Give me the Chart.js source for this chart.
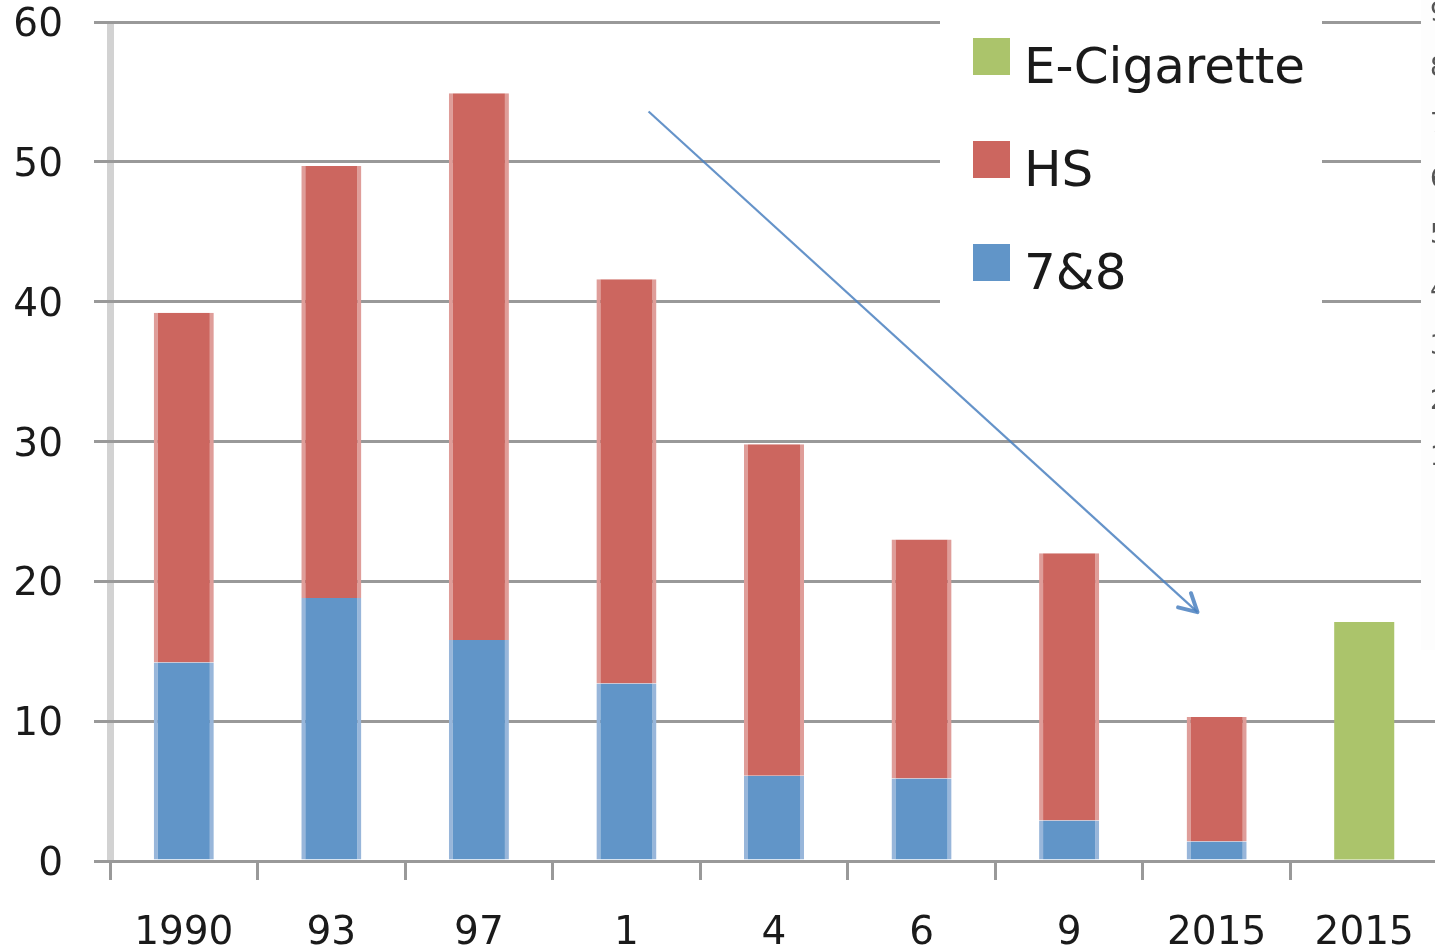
<!DOCTYPE html>
<html lang="en">
<head>
    <meta charset="UTF-8">
    <title>Smoking rates, grades 7&amp;8 and HS</title>
    <script src="https://cdn.jsdelivr.net/npm/chart.js"></script>
    <style>
        html, body {
            margin: 0;
            padding: 0;
            overflow: hidden;
            background: #fff;
        }
        #wrap {
            width: 1450px;
            height: 948px;
        }
    </style>
</head>
<body>
    <div id="wrap">
        <canvas id="smokeChart" width="1450" height="948"></canvas>
    </div>

    <script>
        // survey years (last two both 2015: cigarettes vs e-cigarettes)
        const years = ['1990', '93', '97', '1', '4', '6', '9', '2015', '2015'];
        const grade78 = [14.2, 18.8, 15.8, 12.7, 6.1, 5.9, 2.9, 1.4, null];
        const highSchool = [25.0, 30.9, 39.1, 28.9, 23.7, 17.1, 19.1, 8.9, null];
        const eCigarette = [null, null, null, null, null, null, null, null, 17.1];
        const yTicks = [0, 10, 20, 30, 40, 50, 60];

        // trend arrow, in [category index, value]
        const trendFrom = [3.15, 53.6];
        const trendTo = [6.87, 17.8];

        // labels of the clipped axis on the far right
        const sideLabels = ['9', '8', '7', '6', '5', '4', '3', '2', '1'];

        const FONT = 'DejaVu Sans';
        const INK = '#1a1a1a';
        const GRID = '#999999';

        // light grey vertical axis, drawn under the grid lines
        const axisUnderlay = {
            id: 'axisUnderlay',
            beforeDraw(chart) {
                const { ctx, chartArea } = chart;
                ctx.save();
                ctx.fillStyle = '#d2d2d2';
                ctx.fillRect(chartArea.left - 3, chartArea.top, 7, chartArea.bottom - chartArea.top);
                ctx.restore();
            }
        };

        // legend box, arrow and right edge strip
        const overlay = {
            id: 'overlay',
            afterDraw(chart) {
                const { ctx } = chart;
                const xs = chart.scales.x;
                const ys = chart.scales.y;
                ctx.save();

                // right strip hiding upper grid lines
                ctx.fillStyle = '#fdfdfd';
                ctx.fillRect(1421, 0, chart.width - 1421, 650);
                ctx.fillStyle = '#555';
                ctx.font = '26px ' + FONT;
                ctx.textBaseline = 'middle';
                ctx.textAlign = 'left';
                sideLabels.forEach((t, i) => {
                    ctx.fillText(t, 1430, 14 + i * 55.5);
                });

                // legend
                ctx.fillStyle = '#fff';
                ctx.fillRect(940, 6, 382, 318);
                const items = chart.data.datasets.slice().reverse();
                ctx.font = '50px ' + FONT;
                ctx.textBaseline = 'alphabetic';
                items.forEach((ds, i) => {
                    const top = 38 + i * 103;
                    ctx.fillStyle = ds.backgroundColor;
                    ctx.fillRect(973, top, 37, 37);
                    ctx.fillStyle = INK;
                    ctx.fillText(ds.label, 1024, top + 45);
                });

                // downward trend arrow
                const x1 = xs.getPixelForValue(trendFrom[0]);
                const y1 = ys.getPixelForValue(trendFrom[1]);
                const x2 = xs.getPixelForValue(trendTo[0]);
                const y2 = ys.getPixelForValue(trendTo[1]);
                const ang = Math.atan2(y2 - y1, x2 - x1);
                ctx.strokeStyle = 'rgba(74, 128, 192, 0.85)';
                ctx.lineWidth = 2.2;
                ctx.beginPath();
                ctx.moveTo(x1, y1);
                ctx.lineTo(x2, y2);
                ctx.stroke();
                ctx.lineWidth = 4;
                ctx.lineCap = 'round';
                ctx.lineJoin = 'round';
                ctx.beginPath();
                ctx.moveTo(x2 - 20 * Math.cos(ang - 0.5), y2 - 20 * Math.sin(ang - 0.5));
                ctx.lineTo(x2, y2);
                ctx.lineTo(x2 - 20 * Math.cos(ang + 0.5), y2 - 20 * Math.sin(ang + 0.5));
                ctx.stroke();

                ctx.restore();
            }
        };

        const barSides = { left: 4, right: 4, top: 0, bottom: 0 };

        new Chart(document.getElementById('smokeChart'), {
            type: 'bar',
            data: {
                labels: years,
                datasets: [
                    {
                        label: '7&8',
                        data: grade78,
                        backgroundColor: '#6195c8',
                        borderColor: '#98b6da',
                        borderWidth: barSides,
                        barPercentage: 0.407,
                        categoryPercentage: 1
                    },
                    {
                        label: 'HS',
                        data: highSchool,
                        backgroundColor: '#cc665f',
                        borderColor: '#df9d99',
                        borderWidth: barSides,
                        barPercentage: 0.407,
                        categoryPercentage: 1
                    },
                    {
                        label: 'E-Cigarette',
                        data: eCigarette,
                        backgroundColor: '#abc46b',
                        borderWidth: 0,
                        barPercentage: 0.407,
                        categoryPercentage: 1
                    }
                ]
            },
            options: {
                responsive: false,
                animation: false,
                devicePixelRatio: 1,
                layout: {
                    padding: { top: 22, right: 12, left: 0, bottom: 0 }
                },
                plugins: {
                    legend: { display: false },
                    tooltip: { enabled: false }
                },
                scales: {
                    x: {
                        stacked: true,
                        afterFit: (s) => {
                            s.height = 87;
                            s.paddingLeft = 0;
                            s.paddingRight = 0;
                        },
                        grid: {
                            offset: true,
                            drawOnChartArea: false,
                            drawTicks: true,
                            tickLength: 19,
                            color: GRID,
                            lineWidth: 3
                        },
                        border: { display: true, color: GRID, width: 3 },
                        ticks: {
                            color: INK,
                            font: { family: FONT, size: 39 },
                            padding: 30,
                            maxRotation: 0,
                            autoSkip: false
                        }
                    },
                    y: {
                        stacked: true,
                        min: 0,
                        max: 60,
                        afterFit: (s) => {
                            s.width = 110;
                            s.paddingTop = 0;
                            s.paddingBottom = 0;
                        },
                        afterBuildTicks: (s) => { s.ticks = yTicks.map(v => ({ value: v })); },
                        grid: {
                            color: GRID,
                            lineWidth: 3,
                            tickLength: 16
                        },
                        border: { display: false },
                        ticks: {
                            color: INK,
                            font: { family: FONT, size: 39, lineHeight: 1 },
                            padding: 31,
                            labelOffset: 4
                        }
                    }
                }
            },
            plugins: [axisUnderlay, overlay]
        });
    </script>
</body>
</html>
